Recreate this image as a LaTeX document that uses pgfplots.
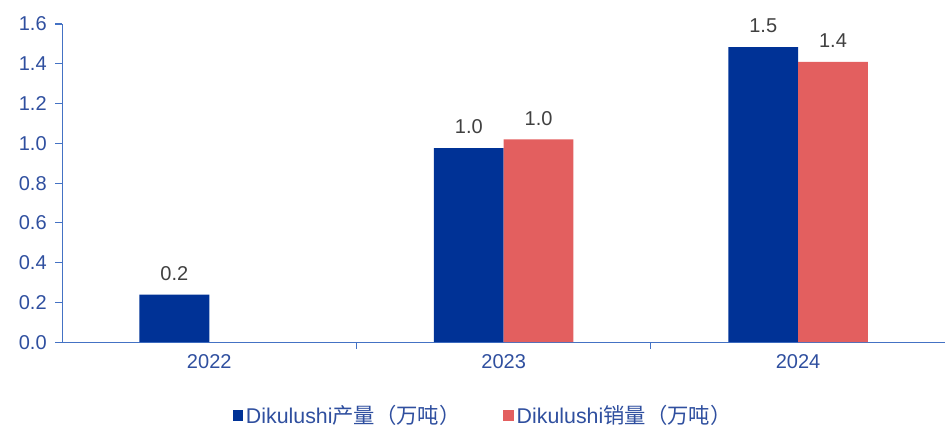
\documentclass[border=0pt]{standalone}
\usepackage{fontspec}
\setmainfont{Liberation Sans}
\newfontfamily\cjk{Noto Sans CJK SC}
\usepackage{pgfplots}
\pgfplotsset{compat=1.18}
\definecolor{barblue}{HTML}{003296}
\definecolor{barred}{HTML}{E35F5F}
\definecolor{axisblue}{HTML}{4472C4}
\definecolor{txtblue}{HTML}{2F4F9F}
\definecolor{valgray}{HTML}{404040}
\begin{document}
\begin{tikzpicture}
\begin{axis}[
  scale only axis,
  width=662pt, height=238.5pt,
  ybar=0pt, bar width=0.237,
  xmin=-0.5, xmax=2.5,
  ymin=0, ymax=1.6,
  ytick={0,0.2,...,1.6},
  xtick={0.5,1.5}, xticklabels={},
  extra x ticks={0,1,2}, extra x tick labels={2022,2023,2024},
  extra x tick style={major tick length=0pt},
  axis x line=bottom, axis y line=left,
  ytick pos=left,
  axis line style={-, draw=axisblue, line width=0.8pt},
  x tick style={draw=axisblue, line width=0.8pt},
  y tick style={draw=axisblue, line width=0.8pt},
  tick align=outside, major tick length=5pt,
  tick label style={font=\fontsize{15}{17}\selectfont, text=txtblue},
  /pgf/number format/assume math mode=true,
  yticklabel style={xshift=-3pt, /pgf/number format/.cd, fixed, fixed zerofill, precision=1},
  xticklabel style={yshift=-6pt},
  nodes near coords,
  every node near coord/.append style={font=\fontsize{15}{17}\selectfont, text=valgray, yshift=7pt, /pgf/number format/.cd, fixed, fixed zerofill, precision=1, assume math mode=true},
  nodes near coords align={above},
  legend style={at={(0.477,-0.23)}, anchor=center, draw=none, legend columns=2,
    font=\fontsize{16}{18}\selectfont, text=txtblue,
    /tikz/every even column/.append style={column sep=30pt}},
  legend image code/.code={\fill[#1] (0pt,-4pt) rectangle (8pt,4pt);},
]
\addplot[fill=barblue, draw=none] coordinates {(0,0.24) (1,0.976) (2,1.484)};
\addlegendentry{Dikulushi{\cjk 产量（万吨）}}
\addplot[fill=barred, draw=none] coordinates {(1,1.02) (2,1.41)};
\addlegendentry{Dikulushi{\cjk 销量（万吨）}}
\coordinate (tl) at (rel axis cs:0,1);
\coordinate (br) at (rel axis cs:1,0);
\end{axis}
\path (tl) ++(-46.5pt,18pt);
\path (br) ++(0.5pt,-64.5pt);
\end{tikzpicture}
\end{document}
